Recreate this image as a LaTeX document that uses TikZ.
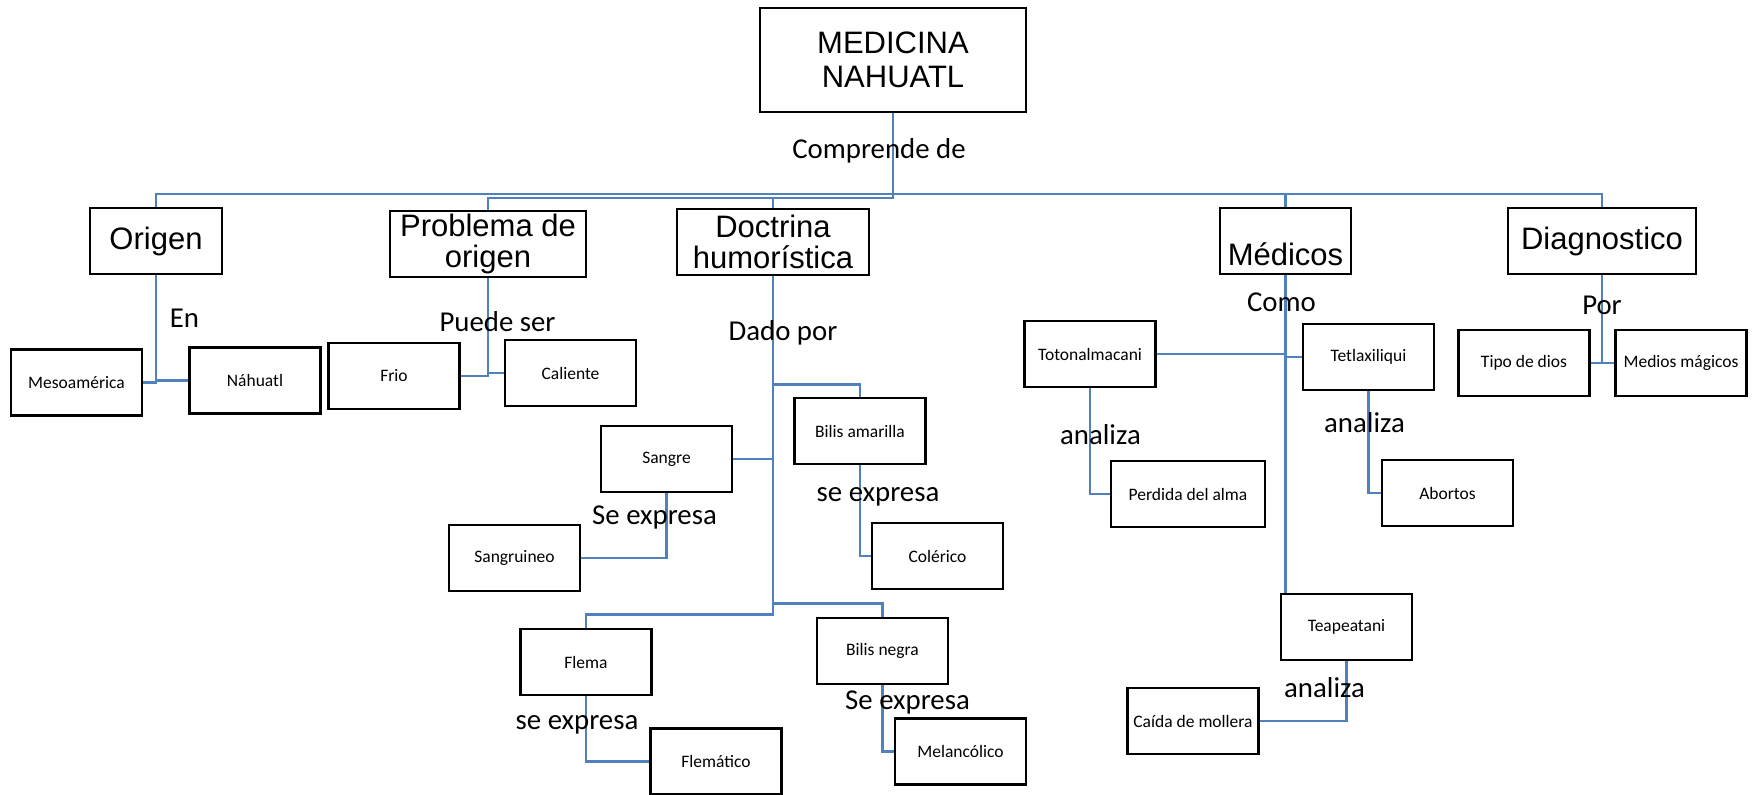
\documentclass[tikz,border=0pt]{standalone}
\usepackage{fontspec}
\setmainfont{Carlito}
\newfontfamily\arialfont{Liberation Sans}
\usepackage{xcolor}
\usepackage{tikz}
\definecolor{linkblue}{HTML}{4F81BD}
\tikzstyle{bigbox} = [draw=black, fill=white, line width=1.4pt,
rectangle, inner sep=1pt, minimum height=33pt, align=center,
font=\arialfont\fontsize{15.5}{15.5}\selectfont]
\tikzstyle{smallbox} = [draw=black, fill=white, line width=1.4pt,
rectangle, inner sep=1pt, minimum width=65.5pt, minimum height=33pt,
font=\fontsize{8.75}{10}\selectfont]
\tikzstyle{linktext} = [inner sep=0pt, font=\fontsize{14.4}{16}\selectfont]
\tikzstyle{link} = [draw=linkblue, line width=1.2pt]

\begin{document}
\begin{tikzpicture}[x=0.5pt, y=-0.5pt]
    \useasboundingbox (0,0) rectangle (1757,794);

    % top and first level
    \node[bigbox, minimum width=133pt, minimum height=52pt,
        font=\arialfont\fontsize{15.5}{17}\selectfont] (medicina) at (893,60) {MEDICINA\\NAHUATL};
    \node[bigbox, minimum width=66pt] (origen) at (156,241) {Origen};
    \node[bigbox, minimum width=98pt] (problema) at (488,244) {Problema de\\origen};
    \node[bigbox, minimum width=96pt] (doctrina) at (773,242) {Doctrina\\humorística};
    \node[bigbox, minimum width=65.5pt, text height=24pt, text depth=0pt] (medicos) at (1285.5,241) {Médicos};
    \node[bigbox, minimum width=94pt] (diagnostico) at (1602,241) {Diagnostico};

    \coordinate (bus) at (0,194);
    \coordinate (bustwo) at (0,198);

    % second level
    \node[smallbox] (mesoamerica) at (76.5,382.5) {Mesoamérica};
    \node[smallbox] (nahuatl) at (255,380.5) {Náhuatl};
    \node[smallbox] (frio) at (394,376) {Frio};
    \node[smallbox] (caliente) at (570.5,373) {Caliente};
    \node[smallbox] (sangre) at (666.5,459) {Sangre};
    \node[smallbox] (sangruineo) at (514.5,558) {Sangruineo};
    \node[smallbox] (bilisamarilla) at (860,431) {Bilis amarilla};
    \node[smallbox] (colerico) at (937.5,556) {Colérico};
    \node[smallbox] (flema) at (586,662) {Flema};
    \node[smallbox] (flematico) at (716,761.5) {Flemático};
    \node[smallbox] (bilisnegra) at (882.5,651) {Bilis negra};
    \node[smallbox] (melancolico) at (960.5,751.5) {Melancólico};
    \node[smallbox] (totonalmacani) at (1090,354) {Totonalmacani};
    \node[smallbox] (tetlaxiliqui) at (1368.5,357) {Tetlaxiliqui};
    \node[smallbox, minimum width=77pt] (perdida) at (1188,494) {Perdida del alma};
    \node[smallbox] (abortos) at (1447.5,493) {Abortos};
    \node[smallbox] (teapeatani) at (1346.5,627) {Teapeatani};
    \node[smallbox] (caida) at (1193,721) {Caída de mollera};
    \node[smallbox] (tipodios) at (1524,363) {Tipo de dios};
    \node[smallbox] (medios) at (1681,363) {Medios mágicos};

    % connectors
    \draw[link] (medicina.south) |- (bus -| origen.north) -- (origen.north);
    \draw[link] (medicina.south) |- (bus -| medicos.north) -- (medicos.north);
    \draw[link] (medicina.south) |- (bus -| diagnostico.north) -- (diagnostico.north);
    \draw[link] (medicina.south) |- (bustwo -| problema.north) -- (problema.north);
    \draw[link] (medicina.south) |- (bustwo -| doctrina.north) -- (doctrina.north);

    \draw[link] (origen.south) |- (mesoamerica.east);
    \draw[link] (origen.south) |- (nahuatl.west);
    \draw[link] (problema.south) |- (frio.east);
    \draw[link] (problema.south) |- (caliente.west);

    \draw[link] (bilisamarilla.north) -- ++(0,-12) -| (doctrina.south);
    \draw[link] (sangre.east) -| (doctrina.south);
    \draw[link] (bilisnegra.north) -- ++(0,-13) -| (doctrina.south);
    \draw[link] (flema.north) -- ++(0,-13) -| (doctrina.south);
    \draw[link] (sangre.south) |- (sangruineo.east);
    \draw[link] (bilisamarilla.south) |- (colerico.west);
    \draw[link] (flema.south) |- (flematico.west);
    \draw[link] (bilisnegra.south) |- (melancolico.west);

    \draw[link] (totonalmacani.east) -| (medicos.south);
    \draw[link] (medicos.south) |- (tetlaxiliqui.west);
    \draw[link] (medicos.south) -- (medicos.south |- teapeatani.north);
    \draw[link] (totonalmacani.south) |- (perdida.west);
    \draw[link] (tetlaxiliqui.south) |- (abortos.west);
    \draw[link] (teapeatani.south) |- (caida.east);

    \draw[link] (diagnostico.south) |- (tipodios.east);
    \draw[link] (diagnostico.south) |- (medios.west);

    % connector texts
    \node[linktext] (comprende) at (879,151) {Comprende de};
    \node[linktext] (en) at (184.5,318) {En};
    \node[linktext] (puedeser) at (497.5,322) {Puede ser};
    \node[linktext] (dadopor) at (783,333) {Dado por};
    \node[linktext] (expsangre) at (654.5,517) {Se expresa};
    \node[linktext] (expbilisam) at (878,497) {se expresa};
    \node[linktext] (expflema) at (577,725) {se expresa};
    \node[linktext] (expbilisne) at (907.5,702) {Se expresa};
    \node[linktext] (como) at (1281.5,302) {Como};
    \node[linktext] (analizatoto) at (1100.5,435) {analiza};
    \node[linktext] (analizatetla) at (1364.5,423) {analiza};
    \node[linktext] (analizateap) at (1324.5,688) {analiza};
    \node[linktext] (por) at (1602,305) {Por};
\end{tikzpicture}
\end{document}
